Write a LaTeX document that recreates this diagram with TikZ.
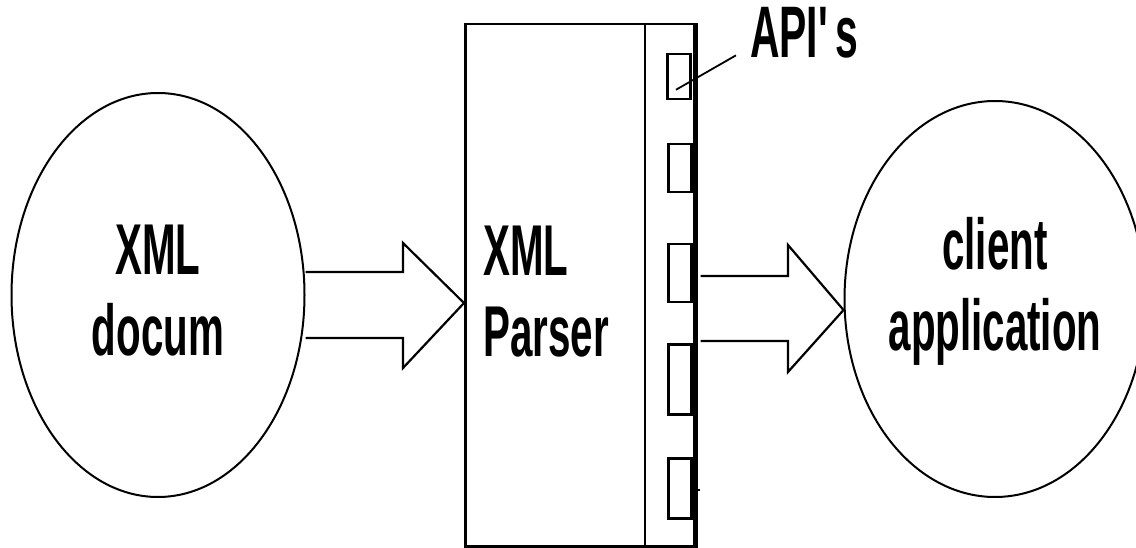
\documentclass[tikz,border=0pt]{standalone}
\usepackage{fontspec}
\setmainfont[FakeStretch=0.56]{Liberation Sans}
\usetikzlibrary{shapes.geometric,calc}
\newcommand{\bigtext}{\bfseries\fontsize{72}{81}\selectfont}

\begin{document}
\begin{tikzpicture}[x=1pt,y=-1pt,
  blob/.style={draw, ellipse, line width=2pt, inner sep=0pt, align=center, font=\bigtext},
  apibox/.style={draw, line width=2.5pt, inner sep=0pt, minimum width=23pt, anchor=north},
  arrowline/.style={line width=2.2pt, line join=miter}]
\useasboundingbox (0,0) rectangle (1136,548);
% the two ends
\node[blob, minimum width=293pt, minimum height=404pt, text depth=10pt] (doc) at (158,295) {XML\\docum};
\node[blob, minimum width=278pt, minimum height=396pt, text depth=30pt] (client) at (995,299) {client\\application};
% parser block
\node[draw, line width=2.5pt, inner sep=0pt, minimum width=229pt, minimum height=522pt, anchor=north west] (parser) at (464,23) {};
\draw[line width=5pt] (parser.north east) -- (parser.south east) -- (parser.south west);
\draw[line width=2pt] (645,23) -- (645,545);
\node[font=\bigtext, inner sep=0pt, align=left, anchor=north west] (ptitle) at (483,226) {XML\\Parser};
% api slots
\node[apibox, minimum height=45pt] (api1) at (679,53) {};
\node[apibox, minimum height=48pt] (api2) at (680,143) {};
\node[apibox, minimum height=58pt] (api3) at (680,243) {};
\node[apibox, minimum height=70pt] (api4) at (680,343) {};
\node[apibox, minimum height=60pt] (api5) at (680,457) {};
\draw[line width=1.5pt] (parser.east |- 0,490) -- ++(4,0);
\node[font=\bfseries\fontsize{73}{80}\selectfont, inner sep=0pt, anchor=north west] (apis) at (750,7) {API\textquotesingle s};
\draw[line width=1.8pt] ($(api1.center)+(-3,13)$) -- ($(apis.south west)+(-14,-3)$);
% block arrows
\coordinate (inTip) at (parser.west |- 0,303);
\draw[arrowline] (doc.east |- 0,272) -- (403,272) -- (403,243) -- (inTip) -- (403,368) -- (403,338) -- (doc.east |- 0,338);
\coordinate (outTip) at (client.west |- 0,310);
\draw[arrowline] ($(parser.east |- 0,276)+(5,0)$) -- (788,276) -- (788,245) -- (outTip) -- (788,372) -- (788,341) -- ($(parser.east |- 0,341)+(5,0)$);
\end{tikzpicture}
\end{document}
